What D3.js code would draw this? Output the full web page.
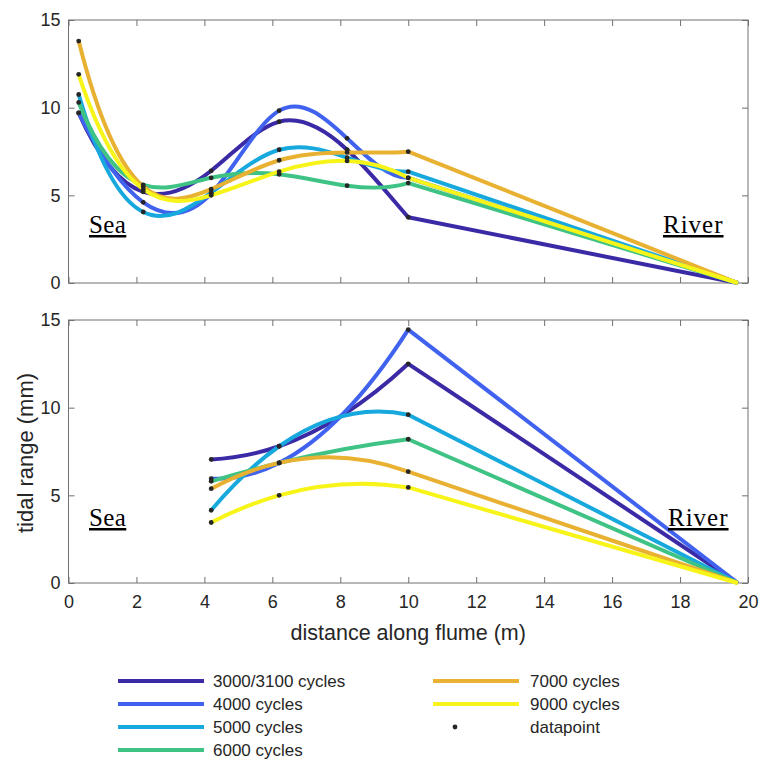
<!DOCTYPE html>
<html>
<head>
<meta charset="utf-8">
<script src="https://cdn.jsdelivr.net/npm/d3@7"></script>
<style>
  html, body { margin: 0; padding: 0; background: #fff; }
  svg { display: block; }
  text { font-family: "Liberation Sans", Arial, sans-serif; fill: #262626; }
  .place { font-family: "Liberation Serif", "Times New Roman", serif; fill: #000; text-decoration: underline; }
</style>
</head>
<body>
<svg id="chart" width="766" height="762"></svg>
<script>
// Measurement stations along the flume (m)
const upperDistance = [0.3, 2.2, 4.2, 6.2, 8.2, 10];
const lowerDistance = [4.2, 6.2, 10];
// Landward end of the flume, where the tidal range vanishes
const riverDistance = 19.7;
const riverRange = 0;

// Tidal range (mm), upper panel
const upper3000 = [9.7, 5.2, 6.4, 9.2, 7.6, 3.75];
const upper4000 = [9.7, 4.6, 5.1, 9.83, 8.25, 6.0];
const upper5000 = [10.75, 4.05, 5.15, 7.6, 7.15, 6.35];
const upper6000 = [10.3, 5.6, 6.0, 6.2, 5.55, 5.7];
const upper7000 = [13.8, 5.5, 5.35, 7.0, 7.45, 7.49];
const upper9000 = [11.9, 5.35, 5.0, 6.35, 6.96, 6.0];

// Tidal range (mm), lower panel
const lower3000 = [7.05, 7.8, 12.5];
const lower4000 = [5.95, 6.85, 14.45];
const lower5000 = [4.15, 7.8, 9.6];
const lower6000 = [5.8, 6.85, 8.2];
const lower7000 = [5.38, 6.85, 6.35];
const lower9000 = [3.45, 5.0, 5.45];

const seriesNames = ["3000/3100 cycles", "4000 cycles", "5000 cycles", "6000 cycles", "7000 cycles", "9000 cycles"];
const seriesColors = ["#3b2aa6", "#4062ee", "#17a8de", "#3fc385", "#e8b131", "#f7f41a"];

const xTicks = [0, 2, 4, 6, 8, 10, 12, 14, 16, 18, 20];
const yTicks = [0, 5, 10, 15];

const upperSeries = [upper3000, upper4000, upper5000, upper6000, upper7000, upper9000];
const lowerSeries = [lower3000, lower4000, lower5000, lower6000, lower7000, lower9000];

// Slopes of a not-a-knot cubic spline through (xs, ys)
function splineSlopes(xs, ys) {
  const n = xs.length;
  const h = [], d = [];
  for (let i = 0; i < n - 1; i++) { h.push(xs[i + 1] - xs[i]); d.push((ys[i + 1] - ys[i]) / h[i]); }
  if (n === 2) return [d[0], d[0]];
  if (n === 3) {
    const f2 = (d[1] - d[0]) / (xs[2] - xs[0]);
    return xs.map(x => d[0] + f2 * (2 * x - xs[0] - xs[1]));
  }
  const A = Array.from({length: n}, () => new Array(n).fill(0));
  const r = new Array(n).fill(0);
  A[0][0] = h[1]; A[0][1] = h[0] + h[1];
  r[0] = ((h[0] + 2 * (h[0] + h[1])) * h[1] * d[0] + h[0] * h[0] * d[1]) / (h[0] + h[1]);
  for (let i = 1; i < n - 1; i++) {
    A[i][i - 1] = h[i]; A[i][i] = 2 * (h[i - 1] + h[i]); A[i][i + 1] = h[i - 1];
    r[i] = 3 * (h[i] * d[i - 1] + h[i - 1] * d[i]);
  }
  const a = h[n - 3], b = h[n - 2];
  A[n - 1][n - 2] = a + b; A[n - 1][n - 1] = a;
  r[n - 1] = (b * b * d[n - 3] + (2 * (a + b) + b) * a * d[n - 2]) / (a + b);
  // Gaussian elimination with partial pivoting
  for (let k = 0; k < n; k++) {
    let p = k;
    for (let i = k + 1; i < n; i++) if (Math.abs(A[i][k]) > Math.abs(A[p][k])) p = i;
    [A[k], A[p]] = [A[p], A[k]]; [r[k], r[p]] = [r[p], r[k]];
    for (let i = k + 1; i < n; i++) {
      const f = A[i][k] / A[k][k];
      for (let j = k; j < n; j++) A[i][j] -= f * A[k][j];
      r[i] -= f * r[k];
    }
  }
  const s = new Array(n).fill(0);
  for (let i = n - 1; i >= 0; i--) {
    let acc = r[i];
    for (let j = i + 1; j < n; j++) acc -= A[i][j] * s[j];
    s[i] = acc / A[i][i];
  }
  return s;
}

// d3 curve factory: piecewise cubic (Bezier) form of the not-a-knot spline
function curveNotAKnot(context) {
  return {
    areaStart() {}, areaEnd() {},
    lineStart() { this.xs = []; this.ys = []; },
    point(x, y) { this.xs.push(+x); this.ys.push(+y); },
    lineEnd() {
      const xs = this.xs, ys = this.ys, n = xs.length;
      if (!n) return;
      context.moveTo(xs[0], ys[0]);
      if (n === 1) return;
      const s = splineSlopes(xs, ys);
      for (let i = 0; i < n - 1; i++) {
        const h = xs[i + 1] - xs[i];
        context.bezierCurveTo(xs[i] + h / 3, ys[i] + s[i] * h / 3,
                              xs[i + 1] - h / 3, ys[i + 1] - s[i + 1] * h / 3,
                              xs[i + 1], ys[i + 1]);
      }
    }
  };
}

const svg = d3.select("#chart");
const left = 68.5, right = 748;
const x = d3.scaleLinear().domain([0, 20]).range([left, right]);

const panels = [
  {top: 20, bottom: 283, dist: upperDistance, series: upperSeries, xLabels: false, seaY: 233},
  {top: 320, bottom: 583, dist: lowerDistance, series: lowerSeries, xLabels: true, seaY: 526}
];

panels.forEach(p => {
  const y = d3.scaleLinear().domain([0, 15]).range([p.bottom, p.top]);
  const g = svg.append("g");

  // frame with inward ticks on all four sides
  g.append("rect").attr("x", left).attr("y", p.top)
    .attr("width", right - left).attr("height", p.bottom - p.top)
    .attr("fill", "none").attr("stroke", "#707070").attr("stroke-width", 1);

  const bottomAxis = d3.axisBottom(x).tickValues(xTicks).tickSizeInner(-6).tickSizeOuter(0)
    .tickFormat(p.xLabels ? d3.format("d") : () => "");
  const gb = g.append("g").attr("transform", `translate(0,${p.bottom})`).call(bottomAxis);
  const topAxis = d3.axisTop(x).tickValues(xTicks).tickSizeInner(-6).tickSizeOuter(0).tickFormat(() => "");
  const gt = g.append("g").attr("transform", `translate(0,${p.top})`).call(topAxis);
  const leftAxis = d3.axisLeft(y).tickValues(yTicks).tickSizeInner(-6).tickSizeOuter(0).tickFormat(d3.format("d"));
  const gl = g.append("g").attr("transform", `translate(${left},0)`).call(leftAxis);
  const rightAxis = d3.axisRight(y).tickValues(yTicks).tickSizeInner(-6).tickSizeOuter(0).tickFormat(() => "");
  const gr = g.append("g").attr("transform", `translate(${right},0)`).call(rightAxis);
  [gb, gt, gl, gr].forEach(a => {
    a.select(".domain").remove();
    a.selectAll(".tick line").attr("stroke", "#707070");
    a.selectAll(".tick text").attr("font-size", 18).attr("fill", "#262626")
      .attr("font-family", "Liberation Sans, Arial, sans-serif");
  });
  gl.selectAll(".tick text").attr("x", -8);
  gb.selectAll(".tick text").attr("y", 12);

  // spline section over the measured stations, straight run to the river end
  const spline = d3.line().x(d => x(d[0])).y(d => y(d[1])).curve(curveNotAKnot);
  const straight = d3.line().x(d => x(d[0])).y(d => y(d[1]));
  p.series.forEach((vals, i) => {
    const pts = p.dist.map((dd, k) => [dd, vals[k]]);
    const last = pts[pts.length - 1];
    const tail = [last, [riverDistance, riverRange]];
    [spline(pts), straight(tail)].forEach(dPath => {
      g.append("path").attr("d", dPath).attr("fill", "none")
        .attr("stroke", seriesColors[i]).attr("stroke-width", 4)
        .attr("stroke-linejoin", "round").attr("stroke-linecap", "butt");
    });
  });

  // measured datapoints
  p.series.forEach(vals => {
    g.selectAll(null).data(p.dist.map((dd, k) => [dd, vals[k]])).enter()
      .append("circle").attr("cx", d => x(d[0])).attr("cy", d => y(d[1]))
      .attr("r", 2.4).attr("fill", "#262626");
  });

  g.append("text").attr("class", "place").attr("x", 89).attr("y", p.seaY)
    .attr("font-size", 25).attr("letter-spacing", 0.4).text("Sea");
  g.append("text").attr("class", "place").attr("x", p.xLabels ? 668 : 663).attr("y", p.seaY)
    .attr("font-size", 25).attr("letter-spacing", 1).text("River");
});

// axis titles
svg.append("text").attr("x", x(10)).attr("y", 640).attr("text-anchor", "middle")
  .attr("font-size", 21.5).text("distance along flume (m)");
svg.append("text").attr("transform", "translate(33,453) rotate(-90)").attr("text-anchor", "middle")
  .attr("font-size", 22).text("tidal range (mm)");

// legend
const legendCols = [
  {lineX: 118, textX: 213, rows: [0, 1, 2, 3]},
  {lineX: 433, textX: 530, rows: [4, 5]}
];
const rowY = [681, 704, 727, 750];
const legend = svg.append("g");
legendCols.forEach(col => {
  col.rows.forEach((si, r) => {
    legend.append("line").attr("x1", col.lineX).attr("x2", col.lineX + 86)
      .attr("y1", rowY[r]).attr("y2", rowY[r])
      .attr("stroke", seriesColors[si]).attr("stroke-width", 4);
    legend.append("text").attr("x", col.textX).attr("y", rowY[r]).attr("dy", "0.35em")
      .attr("font-size", 17).text(seriesNames[si]);
  });
});
legend.append("circle").attr("cx", 455).attr("cy", rowY[2]).attr("r", 2.4).attr("fill", "#262626");
legend.append("text").attr("x", 530).attr("y", rowY[2]).attr("dy", "0.35em")
  .attr("font-size", 17).text("datapoint");
</script>
</body>
</html>
